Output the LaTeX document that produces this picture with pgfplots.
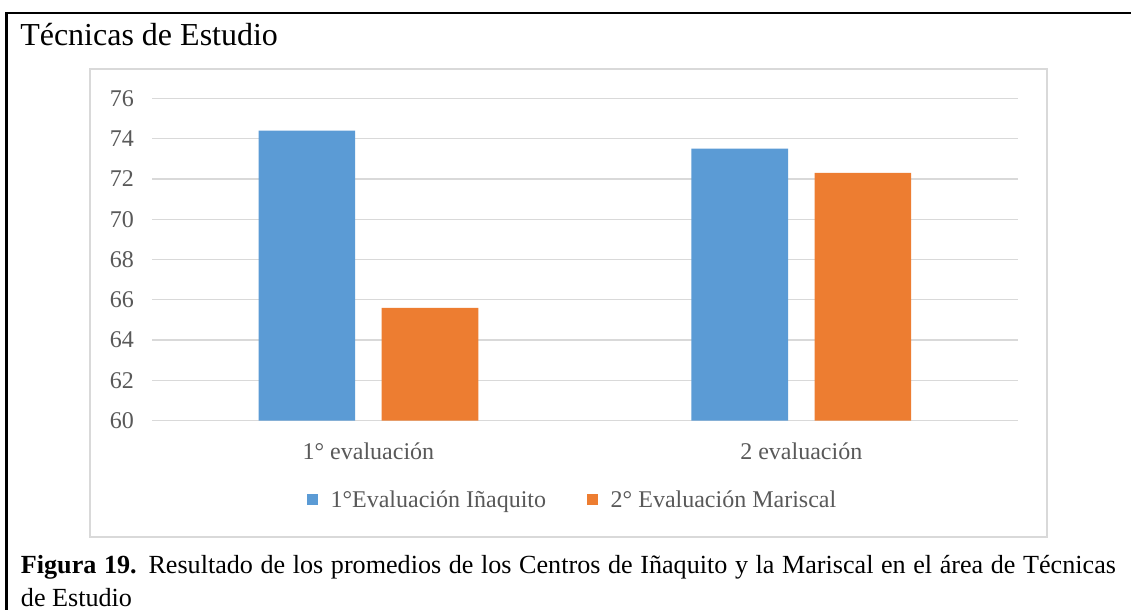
\documentclass[border=0pt]{standalone}
\usepackage{pgfplots}
\pgfplotsset{compat=1.18}
\usepackage{fontspec}
\setmainfont{Liberation Serif}
\definecolor{cblue}{HTML}{5B9BD5}
\definecolor{corange}{HTML}{ED7D31}
\definecolor{cgray}{HTML}{595959}
\definecolor{cgrid}{HTML}{D9D9D9}
\pgfplotsset{sqlegend/.style={legend image code/.code={\fill[##1] (0pt,-4.2pt) rectangle (8.5pt,4.2pt);}}}
\begin{document}
\begin{tikzpicture}
\useasboundingbox (0,0) rectangle (848.25pt,-457.5pt);
\fill[white] (0,0) rectangle (848.25pt,-457.5pt);
% outer frame of the page
\draw[line width=1.9pt] (4.8pt,-460pt) -- (4.8pt,-9.75pt) -- (850pt,-9.75pt);
% chart area
\draw[cgrid, line width=0.9pt] (67.5pt,-51.75pt) rectangle (785.25pt,-402.75pt);
\node[anchor=base west, inner sep=0pt, font=\fontsize{24}{28}\selectfont] at (15pt,-34.5pt) {Técnicas de Estudio};

\begin{axis}[
    at={(114pt,-315.5pt)}, anchor=south west,
    scale only axis, width=649.3pt, height=241.8pt,
    ybar=19.8pt, bar width=72.5pt,
    ymin=60, ymax=76, ytick={60,62,...,76},
    xmin=-0.5, xmax=1.5, xtick={0,1},
    xticklabels={1° evaluación, 2 evaluación},
    axis line style={draw=none}, tick style={draw=none},
    ymajorgrids=true, grid style={cgrid, line width=1pt},
    ticklabel style={font=\fontsize{18}{21}\selectfont, text=cgray},
    /pgf/number format/assume math mode=true,
    yticklabel style={xshift=-10pt},
    xticklabel style={yshift=-9pt},
    legend style={at={(0.486,-0.2457)}, anchor=center, draw=none,
        font=\fontsize{18}{21}\selectfont, text=cgray,
        /tikz/every odd column/.append style={column sep=7.5pt},
        /tikz/every even column/.append style={column sep=28.5pt}},
    legend columns=2,
]
\addplot[fill=cblue, draw=none, sqlegend]
    coordinates {(0,74.4) (1,73.5)};
\addlegendentry{1°Evaluación Iñaquito}
\addplot[fill=corange, draw=none, sqlegend]
    coordinates {(0,65.6) (1,72.3)};
\addlegendentry{2° Evaluación Mariscal}
\end{axis}

\node[anchor=base west, inner sep=0pt, font=\fontsize{19.6}{23}\selectfont] at (15.5pt,-429.75pt)
    {\makebox[821.25pt][s]{\textbf{Figura 19.} Resultado de los promedios de los Centros de Iñaquito y la Mariscal en el área de Técnicas}};
\node[anchor=base west, inner sep=0pt, font=\fontsize{19.6}{23}\selectfont] at (15.5pt,-454.5pt) {de Estudio};
\end{tikzpicture}
\end{document}
